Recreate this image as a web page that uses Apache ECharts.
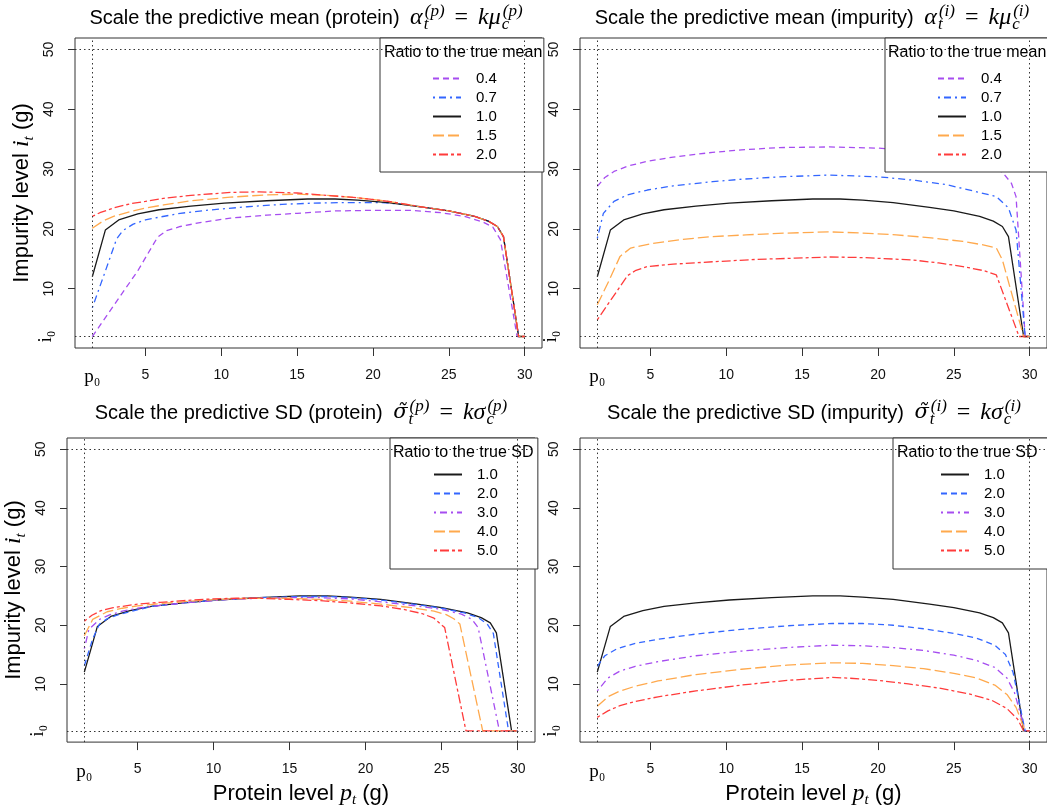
<!DOCTYPE html>
<html><head><meta charset="utf-8">
<script src="https://cdn.jsdelivr.net/npm/echarts@6/dist/echarts.min.js"></script>
<style>html,body{margin:0;padding:0;background:#fff}#c{width:1047px;height:809px}</style>
</head><body><div id="c"></div>
<script>
// ---------- reference values ----------
const P0 = 1.5, PMAX = 30, I0 = 2, IMAX = 50;
const xTickValues = [5, 10, 15, 20, 25, 30];
const xLabelValues = [1.5, 5, 10, 15, 20, 25, 30];
const yTickValues = [10, 20, 30, 40, 50];
const yLabelValues = [2, 10, 20, 30, 40, 50];
const meanRatios = ['0.4', '0.7', '1.0', '1.5', '2.0'];
const sdRatios = ['1.0', '2.0', '3.0', '4.0', '5.0'];

// true (ratio 1.0) curve
const baseline = [[1.5,12.0],[2.36,19.8],[3.24,21.5],[4.5,22.5],[5.9,23.2],[8,23.8],[10.2,24.3],[13,24.7],[15.7,25.0],[17.5,25.0],[19,24.8],[21,24.4],[23.4,23.6],[25,23.0],[26.7,22.1],[27.6,21.3],[28.2,20.4],[28.6,18.7],[29.6,2.0],[30,2.0]];

// scale predictive mean (protein)
const meanP_04 = [[1.5,2.0],[3,7.5],[4.5,13.0],[5.8,18.6],[6.4,19.7],[7.3,20.4],[8.5,21.0],[10.6,21.8],[13,22.3],[15,22.6],[17.5,23.0],[20,23.1],[22.5,23.1],[24.5,22.7],[26,22.1],[27.2,21.2],[27.9,20.3],[28.4,18.2],[29.5,2.0],[30,2.0]];
const meanP_07 = [[1.5,6.8],[2.3,12.5],[3.1,18.3],[3.5,19.7],[4.2,20.8],[5,21.5],[6,22.0],[7.3,22.6],[9,23.1],[11.7,23.7],[14,24.1],[16,24.3],[18,24.4],[20.5,24.4],[22,24.1],[23.4,23.6],[25,23.0],[26.7,22.1],[27.6,21.3],[28.2,20.4],[28.6,18.7],[29.6,2.0],[30,2.0]];
const meanP_15 = [[1.5,20.1],[2.2,21.3],[2.9,22.1],[4,22.9],[5,23.5],[6.2,24.0],[8,24.7],[10.6,25.3],[13,25.7],[15,25.8],[17,25.6],[19,25.2],[21,24.6],[23.4,23.6],[25,23.0],[26.7,22.1],[27.6,21.3],[28.2,20.4],[28.6,18.7],[29.6,2.0],[30,2.0]];
const meanP_20 = [[1.5,22.1],[2,22.7],[2.9,23.5],[4,24.2],[5,24.6],[6.2,25.1],[8,25.6],[10.6,26.1],[12.5,26.2],[15,26.0],[17,25.6],[19,25.2],[21,24.6],[23.4,23.6],[25,23.0],[26.7,22.1],[27.6,21.3],[28.2,20.4],[28.6,18.7],[29.6,2.0],[30,2.0]];

// scale predictive mean (impurity)
const meanI_04 = [[1.5,27.1],[2,28.6],[2.6,29.6],[3.5,30.5],[4.8,31.3],[6.5,32.0],[9.1,32.8],[11,33.2],[13.5,33.6],[16.8,33.7],[20,33.5],[22,33.1],[24,32.5],[26,31.5],[27.5,30.3],[28.2,29.5],[28.8,27.6],[29.1,25.4],[29.7,2.0],[30,2.0]];
const meanI_07 = [[1.5,18.4],[1.9,22.6],[2.6,24.6],[3.5,25.7],[4.8,26.5],[6.5,27.2],[9.1,27.9],[11,28.3],[13.5,28.7],[16.8,29.0],[20.1,28.7],[22.5,28.1],[24.5,27.4],[26.5,26.2],[27.8,25.4],[28.6,23.5],[29.1,19.8],[29.7,2.0],[30,2.0]];
const meanI_15 = [[1.5,7.3],[2.3,11.5],[3.0,15.4],[3.7,16.8],[5,17.5],[7,18.2],[9,18.7],[11.3,19.0],[14,19.3],[16.8,19.5],[19,19.3],[21.2,19.0],[23.5,18.5],[25.6,17.9],[27,17.3],[27.8,16.8],[28.2,14.8],[29.6,2.0],[30,2.0]];
const meanI_20 = [[1.5,4.8],[2.5,8.5],[3.5,12.2],[4.0,13.0],[4.8,13.7],[6.5,14.1],[9.1,14.5],[12,14.9],[14.5,15.1],[16.8,15.3],[19,15.2],[22.3,14.8],[24,14.3],[25.6,13.7],[27,13.0],[27.8,12.3],[29.3,2.0],[30,2.0]];

// scale predictive SD (protein)
const sdP_2 = [[1.5,13.1],[2.05,17.7],[2.5,20.2],[3,21.1],[3.6,21.7],[4.5,22.3],[5.9,23.2],[8,23.8],[10.2,24.3],[13,24.7],[15.7,24.9],[17.5,24.9],[19,24.7],[21,24.3],[23.4,23.5],[25,22.9],[26.5,22.1],[27.4,21.3],[28.0,20.2],[28.4,18.6],[29.4,2.0],[30,2.0]];
const sdP_3 = [[1.5,16.0],[1.8,19.3],[2.5,21.0],[3.2,21.8],[4,22.4],[5,22.9],[6.5,23.4],[8.5,23.9],[11,24.4],[13,24.6],[15,24.7],[17,24.7],[19,24.5],[21,24.0],[23,23.4],[25,22.7],[26.3,21.9],[27.0,21.0],[27.4,19.6],[28.8,2.0],[30,2.0]];
const sdP_4 = [[1.5,18.2],[2.05,21.0],[3,22.3],[4,22.9],[5,23.3],[6.5,23.7],[8.5,24.1],[11,24.5],[13,24.6],[15,24.6],[17,24.4],[19,24.1],[21,23.6],[23,23.0],[24.5,22.4],[25.3,21.8],[25.8,21.1],[26.2,20.2],[27.7,2.0],[30,2.0]];
const sdP_5 = [[1.5,20.7],[2,21.7],[2.6,22.5],[3.4,23.0],[5,23.6],[6.5,23.9],[8,24.2],[10,24.5],[11.5,24.6],[13,24.6],[15,24.4],[17,24.2],[19,23.8],[21,23.3],[22.5,22.7],[23.7,22.0],[24.5,21.2],[25.2,19.6],[26.6,2.0],[30,2.0]];

// scale predictive SD (impurity)
const sdI_2 = [[1.5,13.0],[2,14.8],[2.8,16.0],[4,16.9],[5.5,17.6],[8,18.5],[11,19.3],[14,19.9],[17,20.3],[19,20.3],[21,20.0],[23,19.4],[25,18.6],[26.5,17.8],[27.7,16.6],[28.4,15.0],[28.9,12.0],[29.7,2.0],[30,2.0]];
const sdI_3 = [[1.5,8.8],[2.2,11.0],[3,12.2],[4,13.0],[5.5,13.8],[8,14.8],[11,15.6],[14,16.2],[17,16.6],[19,16.5],[21,16.2],[23,15.7],[25,14.9],[26.5,14.0],[27.7,12.8],[28.5,11.0],[29,8.5],[29.7,2.0],[30,2.0]];
const sdI_4 = [[1.5,6.2],[2.2,7.8],[3,8.8],[4,9.6],[5.5,10.5],[8,11.6],[11,12.5],[14,13.2],[17,13.6],[19,13.5],[21,13.1],[23,12.6],[25,11.8],[26.5,11.0],[27.7,9.8],[28.5,8.2],[29.1,6.0],[29.7,2.0],[30,2.0]];
const sdI_5 = [[1.5,4.3],[2.2,5.4],[3,6.3],[4,7.0],[5.5,7.8],[8,8.8],[11,9.8],[14,10.6],[17,11.1],[18,11.0],[20,10.6],[22,10.0],[24,9.3],[26,8.3],[27.5,7.2],[28.5,5.8],[29.2,4.0],[29.6,2.0],[30,2.0]];

// ---------- styles ----------
const SANS = "'Liberation Sans',Arial,sans-serif";
const SERIF = "'Liberation Serif','DejaVu Serif',serif";
const LW = 1.3;
const STY = {
  purpleDash:    {color: '#A64DF0', type: [6, 4]},
  blueDotDash:   {color: '#3366FF', type: [2, 4, 7, 4]},
  black:         {color: '#1a1a1a', type: 'solid'},
  orangeLong:    {color: '#FFA94D', type: [11, 4]},
  redTwoDash:    {color: '#FF3B3B', type: [3, 3, 9, 3]},
  blueDash:      {color: '#3366FF', type: [6, 4]},
  purpleDotDash: {color: '#A64DF0', type: [2, 4, 7, 4]}
};

const panels = [
  {key: 'mp', grid: {left: 75, top: 38, width: 467, height: 310},
   title: {x: 306, y: 3, text: 'Scale the predictive mean (protein)', g1: 'a|α', g2: 'μ', s: 'p'},
   legend: {left: 380, top: 38, pad: [33, 47, 10, 52], tx: 384, ty: 45, label: 'Ratio to the true mean'},
   names: meanRatios, data: [meanP_04, meanP_07, baseline, meanP_15, meanP_20],
   styles: ['purpleDash', 'blueDotDash', 'black', 'orangeLong', 'redTwoDash'], yName: true, xName: false},
  {key: 'mi', grid: {left: 580, top: 38, width: 467, height: 310},
   title: {x: 812, y: 3, text: 'Scale the predictive mean (impurity)', g1: 'a|α', g2: 'μ', s: 'i'},
   legend: {left: 885, top: 38, pad: [33, 49, 10, 52], tx: 888, ty: 45, label: 'Ratio to the true mean'},
   names: meanRatios, data: [meanI_04, meanI_07, baseline, meanI_15, meanI_20],
   styles: ['purpleDash', 'blueDotDash', 'black', 'orangeLong', 'redTwoDash'], yName: false, xName: false},
  {key: 'sp', grid: {left: 67, top: 438, width: 468, height: 307},
   title: {x: 301, y: 398, text: 'Scale the predictive SD (protein)', g1: 'at|σ̃', g2: 'σ', s: 'p'},
   legend: {left: 390, top: 438, pad: [29, 40, 11, 43], tx: 393, ty: 445, label: 'Ratio to the true SD'},
   names: sdRatios, data: [baseline, sdP_2, sdP_3, sdP_4, sdP_5],
   styles: ['black', 'blueDash', 'purpleDotDash', 'orangeLong', 'redTwoDash'], yName: true, xName: true},
  {key: 'si', grid: {left: 580, top: 438, width: 467, height: 307},
   title: {x: 814, y: 398, text: 'Scale the predictive SD (impurity)', g1: 'at|σ̃', g2: 'σ', s: 'i'},
   legend: {left: 893, top: 438, pad: [29, 43, 11, 47], tx: 897, ty: 445, label: 'Ratio to the true SD'},
   names: sdRatios, data: [baseline, sdI_2, sdI_3, sdI_4, sdI_5],
   styles: ['black', 'blueDash', 'purpleDotDash', 'orangeLong', 'redTwoDash'], yName: false, xName: true}
];

const mathRich = {
  r:  {fontFamily: SANS, fontSize: 20, lineHeight: 30, color: '#000', align: 'left'},
  a:  {fontFamily: SERIF, fontStyle: 'italic', fontSize: 24, lineHeight: 30, color: '#000', align: 'left', padding: [0, 1, 0, 5]},
  at: {fontFamily: "'DejaVu Serif',serif", fontStyle: 'italic', fontSize: 21, lineHeight: 30, color: '#000', align: 'left', padding: [0, 1, 0, 5]},
  k:  {fontFamily: SERIF, fontStyle: 'italic', fontSize: 24, lineHeight: 30, color: '#000', align: 'left', padding: [0, 1, 0, 0]},
  e:  {fontFamily: SERIF, fontSize: 24, lineHeight: 30, color: '#000', align: 'left', padding: [0, 10, 0, 10]},
  sb: {fontFamily: SERIF, fontStyle: 'italic', fontSize: 17, verticalAlign: 'bottom', width: 1, color: '#000', align: 'left'},
  sp: {fontFamily: SERIF, fontStyle: 'italic', fontSize: 17, verticalAlign: 'top', color: '#000', align: 'left'}
};
const nameRich = {
  r:  {fontFamily: SANS, fontSize: 22, lineHeight: 28, color: '#000'},
  a:  {fontFamily: SERIF, fontStyle: 'italic', fontSize: 24, lineHeight: 28, color: '#000'},
  sb: {fontFamily: SERIF, fontStyle: 'italic', fontSize: 15, verticalAlign: 'bottom', color: '#000'}
};
const subRich = {s: {fontFamily: SERIF, fontSize: 19, color: '#000'}};

const option = {animation: false, backgroundColor: '#fff',
  grid: [], xAxis: [], yAxis: [], series: [], legend: [], title: []};

panels.forEach((p, gi) => {
  option.grid.push(Object.assign({show: true, borderColor: '#333', borderWidth: 1, backgroundColor: 'transparent'}, p.grid));
  option.xAxis.push({
    type: 'value', gridIndex: gi, min: 0.36, max: 31.14,
    axisLine: {show: false}, splitLine: {show: false},
    axisTick: {show: true, customValues: xTickValues, length: 8, lineStyle: {color: '#333'}},
    axisLabel: {customValues: xLabelValues, margin: 20, fontFamily: SANS, fontSize: 14, color: '#111',
      formatter: v => Math.abs(v - P0) < 1e-6 ? '{s|p₀}' : String(v), rich: subRich},
    name: p.xName ? '{r|Protein level }{a|p}{sb|t}{r| (g)}' : '',
    nameLocation: 'middle', nameGap: 30, nameTextStyle: {rich: nameRich}
  });
  option.yAxis.push({
    type: 'value', gridIndex: gi, min: 0.08, max: 51.92,
    axisLine: {show: false}, splitLine: {show: false},
    axisTick: {show: true, customValues: yTickValues, length: 7, lineStyle: {color: '#333'}},
    axisLabel: {customValues: yLabelValues, rotate: 90, margin: 19, fontFamily: SANS, fontSize: 14, color: '#111',
      formatter: v => Math.abs(v - I0) < 1e-6 ? '{s|i₀}' : String(v), rich: subRich},
    name: p.yName ? '{r|Impurity level }{a|i}{sb|t}{r| (g)}' : '',
    nameLocation: 'middle', nameGap: 36, nameTextStyle: {rich: nameRich}
  });
  const names = p.names.map(n => p.key + '|' + n);
  p.data.forEach((d, si) => {
    const st = STY[p.styles[si]];
    const s = {
      type: 'line', name: names[si], xAxisIndex: gi, yAxisIndex: gi, data: d,
      symbol: 'none', showSymbol: false, smooth: false, silent: true,
      lineStyle: {color: st.color, type: st.type, width: LW}, itemStyle: {color: st.color},
      emphasis: {disabled: true}
    };
    if (si === 0) {
      s.markLine = {silent: true, symbol: ['none', 'none'], label: {show: false},
        lineStyle: {type: [1.5, 3], color: '#333', width: 1}, emphasis: {disabled: true},
        data: [{yAxis: IMAX}, {yAxis: I0}, {xAxis: P0}, {xAxis: PMAX}]};
    }
    option.series.push(s);
  });
  option.legend.push({
    data: names, orient: 'vertical', left: p.legend.left, top: p.legend.top,
    padding: p.legend.pad, itemWidth: 28, itemHeight: 14, itemGap: 4,
    backgroundColor: '#fff', borderColor: '#333', borderWidth: 1, borderRadius: 0,
    selectedMode: false, z: 5,
    itemStyle: {opacity: 0, borderWidth: 0},
    formatter: n => n.split('|')[1],
    textStyle: {fontFamily: SANS, fontSize: 15, color: '#000', padding: [0, 0, 0, 10]}
  });
  option.title.push({
    text: p.legend.label, left: p.legend.tx, top: p.legend.ty, padding: 0, z: 10,
    textStyle: {fontFamily: SANS, fontSize: 16, fontWeight: 'normal', color: '#000'}
  });
  const t = p.title;
  option.title.push({
    text: `{r|${t.text} }{${t.g1}}{sb|t}{sp|(${t.s})}{e|=}{k|k${t.g2}}{sb|c}{sp|(${t.s})}`,
    left: t.x, top: t.y, textAlign: 'center', padding: 0, z: 10,
    textStyle: {rich: mathRich, fontWeight: 'normal'}
  });
});

const chart = echarts.init(document.getElementById('c'), null, {renderer: 'canvas'});
chart.setOption(option);
</script></body></html>
